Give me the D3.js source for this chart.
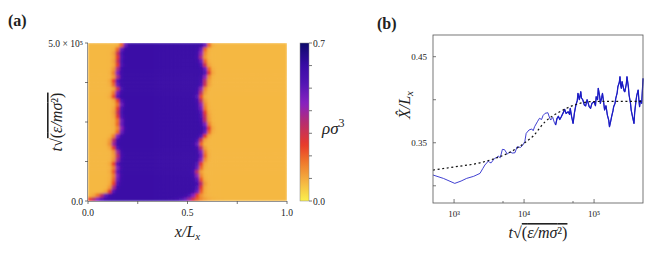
<!DOCTYPE html>
<html>
<head>
<meta charset="utf-8">
<script src="https://cdn.jsdelivr.net/npm/d3@7"></script>
<style>
body { margin: 0; background: #fff; }
svg { display: block; }
text { font-family: "Liberation Serif", "DejaVu Serif", serif; fill: #222; }
</style>
</head>
<body>
<svg id="fig" width="664" height="257"></svg>
<script>
// ---------------- panel (a) data: slab interfaces per time row, bottom -> top (x/Lx)
var leftEdge = [0.03, 0.07, 0.115, 0.128, 0.136, 0.14, 0.143, 0.138, 0.143, 0.136,
                0.147, 0.15, 0.147, 0.135, 0.127, 0.13, 0.143, 0.16, 0.165, 0.16,
                0.161, 0.155, 0.152, 0.155, 0.161, 0.155, 0.137, 0.142, 0.152, 0.14,
                0.136, 0.148, 0.143, 0.148, 0.155, 0.152, 0.155, 0.152, 0.16, 0.18]
var rightEdge = [0.52, 0.54, 0.56, 0.565, 0.57, 0.562, 0.555, 0.55, 0.56, 0.565,
                 0.575, 0.58, 0.577, 0.57, 0.56, 0.568, 0.585, 0.6, 0.605, 0.597,
                 0.59, 0.588, 0.585, 0.578, 0.575, 0.57, 0.563, 0.57, 0.575, 0.588,
                 0.59, 0.595, 0.605, 0.6, 0.588, 0.58, 0.572, 0.575, 0.58, 0.6]
var edgeWidth = [0.05, 0.028, 0.018, 0.016, 0.016, 0.016, 0.016, 0.016, 0.016, 0.016,
                 0.016, 0.016, 0.016, 0.016, 0.016, 0.016, 0.016, 0.016, 0.016, 0.016,
                 0.016, 0.016, 0.016, 0.016, 0.016, 0.016, 0.016, 0.016, 0.016, 0.016,
                 0.016, 0.016, 0.016, 0.016, 0.016, 0.016, 0.016, 0.016, 0.016, 0.016]
var rhoGas = 0.08, rhoDense = 0.6
var nCols = 50
var tMax = 5e5
var heatXTicks = [0, 0.25, 0.5, 0.75, 1]
var heatXLabels = {0: "0.0", 0.5: "0.5", 1: "1.0"}
var heatYTicks = [0, 1.25e5, 2.5e5, 3.75e5, 5e5]
var heatYLabels = {0: "0.0", 500000: "5.0 × 10⁵"}
var cbarTicks = [0, 0.1, 0.2, 0.3, 0.4, 0.5, 0.6, 0.7]
var cmapStops = [0, 0.08, 0.17, 0.25, 0.35, 0.43, 0.52, 0.6, 0.7]
var cmapColors = ["#fbf04c", "#f5b843", "#ef7a2c", "#e83a2a", "#b52d72", "#8a22c0", "#5216b4", "#3a0ca6", "#0d0b6b"]

// ---------------- panel (b) data: log10 t and X/Lx
var logT = [2.70, 2.85, 3.01, 3.10, 3.18, 3.28, 3.37, 3.41, 3.44, 3.49, 3.51, 3.53, 3.56, 3.58, 3.61, 3.63,
            3.66, 3.69, 3.72, 3.76, 3.80, 3.83, 3.87, 3.90, 3.95, 3.98, 4.01, 4.03, 4.07, 4.11, 4.13, 4.15,
            4.19, 4.22, 4.25, 4.27, 4.30, 4.34, 4.36, 4.38, 4.41, 4.43, 4.45, 4.47, 4.49, 4.51, 4.53, 4.56,
            4.58, 4.60, 4.63, 4.65, 4.66, 4.68, 4.70, 4.72, 4.74, 4.76, 4.77, 4.79, 4.81, 4.82, 4.84, 4.86,
            4.88, 4.90, 4.91, 4.93, 4.95, 4.97, 5.00, 5.02, 5.03, 5.05, 5.06, 5.08, 5.09, 5.11, 5.12, 5.14,
            5.15, 5.17, 5.19, 5.21, 5.22, 5.24, 5.25, 5.27, 5.28, 5.30, 5.31, 5.33, 5.34, 5.36, 5.37, 5.38,
            5.39, 5.40, 5.41, 5.43, 5.44, 5.46, 5.47, 5.49, 5.50, 5.52, 5.53, 5.55, 5.57, 5.58, 5.60, 5.61,
            5.63, 5.64, 5.65, 5.66, 5.68, 5.69, 5.70]
var xhat = [0.3125, 0.3085, 0.3028, 0.3055, 0.3086, 0.3110, 0.3144, 0.3200, 0.3241, 0.3287, 0.3270, 0.3267, 0.3300, 0.3318, 0.3330, 0.3345,
            0.3326, 0.3423, 0.3420, 0.3369, 0.3395, 0.3380, 0.3384, 0.3453, 0.3446, 0.3470, 0.3512, 0.3609, 0.3648, 0.3660, 0.3640, 0.3686,
            0.3744, 0.3784, 0.3770, 0.3815, 0.3842, 0.3849, 0.3800, 0.3764, 0.3795, 0.3740, 0.3706, 0.3780, 0.3808, 0.3770, 0.3800, 0.3850,
            0.3888, 0.3840, 0.3860, 0.3830, 0.3899, 0.3800, 0.3725, 0.3850, 0.3938, 0.3990, 0.4074, 0.4000, 0.4093, 0.4020, 0.3997, 0.3940,
            0.3928, 0.4000, 0.3977, 0.3920, 0.3900, 0.3960, 0.3977, 0.3930, 0.4035, 0.4000, 0.4133, 0.4040, 0.3958, 0.4030, 0.4074, 0.3950,
            0.3880, 0.3930, 0.3822, 0.3760, 0.3686, 0.3760, 0.3802, 0.3870, 0.3919, 0.3960, 0.4016, 0.4080, 0.4151, 0.4200, 0.4267, 0.4170,
            0.4133, 0.4210, 0.4171, 0.4100, 0.4093, 0.4180, 0.4267, 0.4150, 0.4055, 0.3960, 0.3880, 0.3800, 0.3725, 0.3850, 0.3997, 0.4050,
            0.4113, 0.4000, 0.3919, 0.3990, 0.3958, 0.4100, 0.4248]
var fitLogT = [2.70, 3.01, 3.37, 3.65, 3.80, 4.01, 4.12, 4.30, 4.51, 4.72, 4.94, 5.15, 5.70]
var fitXhat = [0.3183, 0.3220, 0.3267, 0.3337, 0.3390, 0.3500, 0.3570, 0.3744, 0.3860, 0.3938, 0.3977, 0.3980, 0.3980]
var bXMajor = [1e3, 1e4, 1e5]
var bXLabels = ["10³", "10⁴", "10⁵"]
var bXMinor = [5e3, 5e4]
var bYTicks = [0.30, 0.35, 0.40, 0.45]
var bYLabels = {0.35: "0.35", 0.45: "0.45"}

var svg = d3.select("#fig")

// sqrt label t√(ε/mσ²) with an overline on the radicand
function sqrtLabel(g, x, y, angle) {
  var t = g.append("text")
    .attr("transform", "translate(" + x + "," + y + ") rotate(" + angle + ")")
    .attr("text-anchor", "middle")
    .style("font-size", "16px")
  t.append("tspan").style("font-style", "italic").text("t")
  t.append("tspan").text("√")
  var r = t.append("tspan").style("text-decoration", "overline")
  r.append("tspan").text("(")
  r.append("tspan").style("font-style", "italic").text("ε/mσ")
  r.append("tspan").text("²)")
}

////////////////////////////// panel (a)
var cmap = d3.scaleLinear().domain(cmapStops).range(cmapColors).interpolate(d3.interpolateRgb).clamp(true)
var hx = d3.scaleLinear().domain([0, 1]).range([88, 287])
var hy = d3.scaleLinear().domain([0, tMax]).range([201, 43])
var rowDt = tMax / leftEdge.length

var cells = []
leftEdge.forEach(function(L, i) {
  var R = rightEdge[i], w = edgeWidth[i]
  for (var j = 0; j < nCols; j++) {
    var xc = (j + 0.5) / nCols
    var s = 0.5 * (1 + Math.tanh((xc - L) / w)) * 0.5 * (1 + Math.tanh((R - xc) / w))
    cells.push({col: j, row: i, rho: rhoGas + (rhoDense - rhoGas) * s})
  }
})

var defs = svg.append("defs")
defs.append("clipPath").attr("id", "heatclip").append("rect")
  .attr("x", hx(0)).attr("y", hy(tMax)).attr("width", hx(1) - hx(0)).attr("height", hy(0) - hy(tMax))
defs.append("filter").attr("id", "soft").attr("x", "-5%").attr("y", "-5%").attr("width", "110%").attr("height", "110%")
  .append("feGaussianBlur").attr("stdDeviation", 0.8)

var heat = svg.append("g").attr("clip-path", "url(#heatclip)").append("g").attr("filter", "url(#soft)")
heat.selectAll("rect")
  .data(cells)
  .enter()
  .append("rect")
    .attr("x", function(d) { return hx(d.col / nCols) - 0.3 })
    .attr("y", function(d) { return hy((d.row + 1) * rowDt) - 0.3 })
    .attr("width", (hx(1) - hx(0)) / nCols + 0.6)
    .attr("height", (hy(0) - hy(rowDt)) + 0.6)
    .attr("fill", function(d) { return cmap(d.rho) })

var axA = svg.append("g").style("font-size", "9.5px")
axA.append("line").attr("x1", hx(0)).attr("x2", hx(1)).attr("y1", hy(0) + 0.5).attr("y2", hy(0) + 0.5).attr("stroke", "#777").attr("stroke-width", 0.8)
axA.append("line").attr("x1", hx(0) - 0.5).attr("x2", hx(0) - 0.5).attr("y1", hy(0)).attr("y2", hy(tMax)).attr("stroke", "#777").attr("stroke-width", 0.8)
axA.selectAll(".xt").data(heatXTicks).enter().append("line")
  .attr("x1", function(d) { return hx(d) }).attr("x2", function(d) { return hx(d) })
  .attr("y1", hy(0)).attr("y2", hy(0) + 3).attr("stroke", "#555").attr("stroke-width", 0.8)
axA.selectAll(".xl").data(heatXTicks.filter(function(d) { return d in heatXLabels })).enter().append("text")
  .attr("x", function(d) { return hx(d) }).attr("y", hy(0) + 15).attr("text-anchor", "middle")
  .text(function(d) { return heatXLabels[d] })
axA.selectAll(".yt").data(heatYTicks).enter().append("line")
  .attr("x1", hx(0) - 3).attr("x2", hx(0))
  .attr("y1", function(d) { return hy(d) }).attr("y2", function(d) { return hy(d) }).attr("stroke", "#555").attr("stroke-width", 0.8)
axA.selectAll(".yl").data(heatYTicks.filter(function(d) { return d in heatYLabels })).enter().append("text")
  .attr("x", hx(0) - 5).attr("y", function(d) { return hy(d) + 3.5 }).attr("text-anchor", "end")
  .text(function(d) { return heatYLabels[d] })

svg.append("text").attr("x", hx(0.5)).attr("y", 237).attr("text-anchor", "middle")
  .style("font-size", "16px").style("font-style", "italic")
  .html('x/L<tspan dy="3" style="font-size:11px">x</tspan>')
sqrtLabel(svg, 62, 122, -90)
svg.append("text").attr("x", 8).attr("y", 26).style("font-size", "16px").style("font-weight", "bold").text("(a)")

// colorbar
var cy = d3.scaleLinear().domain([0, 0.7]).range([201, 43])
var grad = defs.append("linearGradient").attr("id", "cbar").attr("x1", 0).attr("y1", 1).attr("x2", 0).attr("y2", 0)
d3.range(0, 0.7001, 0.0175).forEach(function(v) {
  grad.append("stop").attr("offset", v / 0.7).attr("stop-color", cmap(v))
})
svg.append("rect").attr("x", 300).attr("y", cy(0.7)).attr("width", 9).attr("height", cy(0) - cy(0.7))
  .attr("fill", "url(#cbar)").attr("stroke", "#888").attr("stroke-width", 0.5)
svg.selectAll(".ct").data(cbarTicks).enter().append("line")
  .attr("x1", 309).attr("x2", 312).attr("y1", function(d) { return cy(d) }).attr("y2", function(d) { return cy(d) })
  .attr("stroke", "#555").attr("stroke-width", 0.8)
svg.selectAll(".cl").data([0, 0.7]).enter().append("text")
  .attr("x", 313).attr("y", function(d) { return cy(d) + 3.5 }).style("font-size", "9.5px")
  .text(function(d) { return d.toFixed(1) })
svg.append("text").attr("x", 322).attr("y", 134).style("font-size", "17px").style("font-style", "italic")
  .html('ρσ<tspan dy="-7" style="font-size:12px;font-style:normal">3</tspan>')

////////////////////////////// panel (b)
var bx = d3.scaleLog().domain([500, 5e5]).range([433, 643])
var by = d3.scaleLinear().domain([0.28, 0.4752]).range([203, 35])
var series = logT.map(function(d, i) { return {t: Math.pow(10, d), v: xhat[i]} })
var fit = fitLogT.map(function(d, i) { return {t: Math.pow(10, d), v: fitXhat[i]} })

svg.append("text").attr("x", 377).attr("y", 29).style("font-size", "16px").style("font-weight", "bold").text("(b)")

var line = d3.line().x(function(d) { return bx(d.t) }).y(function(d) { return by(d.v) })
svg.append("path").attr("d", line(series)).attr("fill", "none").attr("stroke", "#2b2bcc").attr("stroke-width", 0.9)
svg.append("path").attr("d", line(series.filter(function(d) { return d.t >= Math.pow(10, 4.45) })))
  .attr("fill", "none").attr("stroke", "#1c1cc4").attr("stroke-width", 1.25).attr("stroke-linejoin", "round")
svg.append("path").attr("d", line.curve(d3.curveMonotoneX)(fit)).attr("fill", "none")
  .attr("stroke", "#111").attr("stroke-width", 1.2).attr("stroke-dasharray", "2,2.6")

svg.append("rect").attr("x", 433).attr("y", 35).attr("width", 210).attr("height", 168)
  .attr("fill", "none").attr("stroke", "#555").attr("stroke-width", 0.8)

var axB = svg.append("g").style("font-size", "9px")
axB.selectAll(".bxt").data(bXMajor).enter().append("line")
  .attr("x1", function(d) { return bx(d) }).attr("x2", function(d) { return bx(d) })
  .attr("y1", 203).attr("y2", 199).attr("stroke", "#555").attr("stroke-width", 0.8)
axB.selectAll(".bxm").data(bXMinor).enter().append("line")
  .attr("x1", function(d) { return bx(d) }).attr("x2", function(d) { return bx(d) })
  .attr("y1", 203).attr("y2", 201).attr("stroke", "#555").attr("stroke-width", 0.8)
axB.selectAll(".bxl").data(bXMajor).enter().append("text")
  .attr("x", function(d) { return bx(d) }).attr("y", 217).attr("text-anchor", "middle")
  .text(function(d, i) { return bXLabels[i] })
axB.selectAll(".byt").data(bYTicks).enter().append("line")
  .attr("x1", 433).attr("x2", 436).attr("y1", function(d) { return by(d) }).attr("y2", function(d) { return by(d) })
  .attr("stroke", "#555").attr("stroke-width", 0.8)
axB.selectAll(".byl").data(bYTicks.filter(function(d) { return d in bYLabels })).enter().append("text")
  .attr("x", 427).attr("y", function(d) { return by(d) + 3 }).attr("text-anchor", "end")
  .text(function(d) { return bYLabels[d] })

sqrtLabel(svg, 538, 238, 0)
svg.append("text").attr("transform", "translate(410,105) rotate(-90)").attr("text-anchor", "middle")
  .style("font-size", "16px").style("font-style", "italic")
  .html('X̂/L<tspan dy="3" style="font-size:11px">x</tspan>')
</script>
</body>
</html>
